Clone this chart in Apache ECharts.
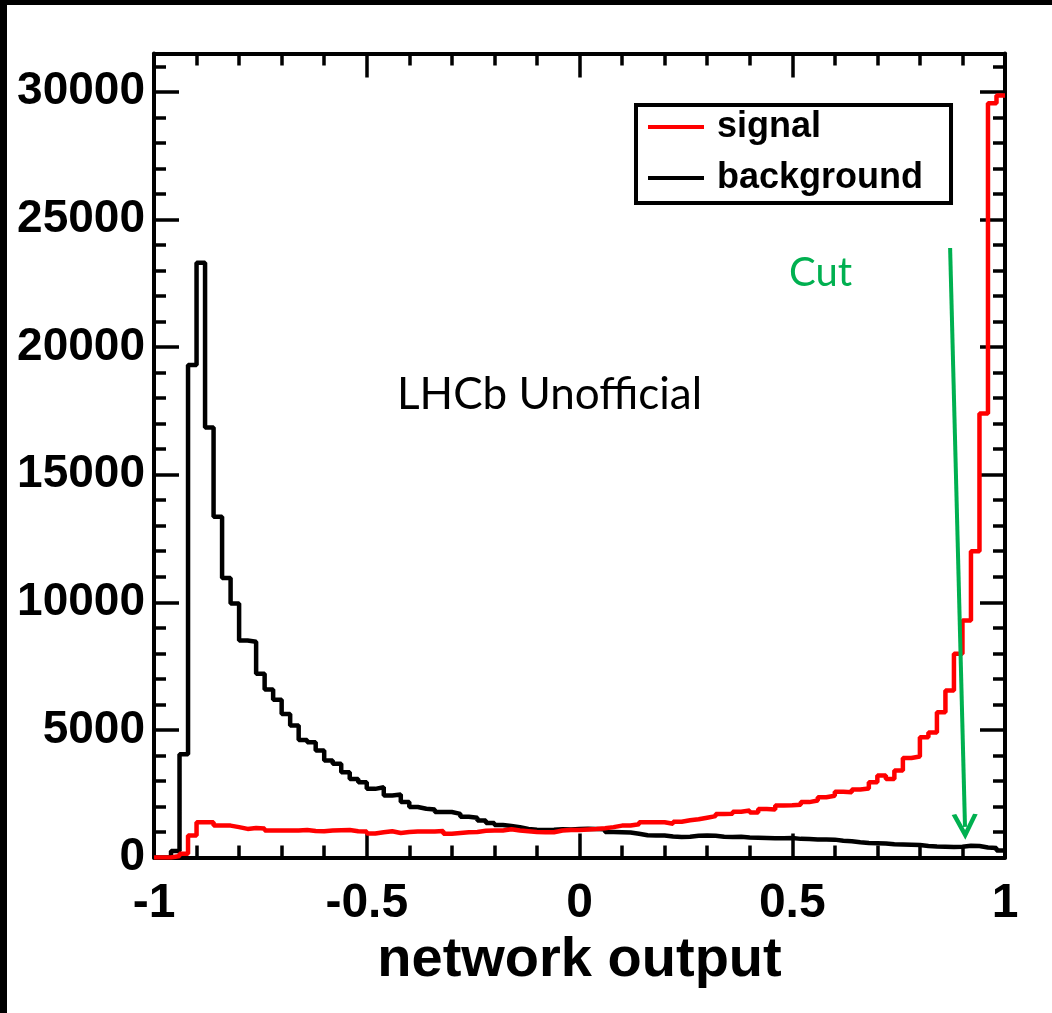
<!DOCTYPE html>
<html>
<head>
<meta charset="utf-8">
<title>network output</title>
<script src="https://cdn.jsdelivr.net/npm/echarts@6/dist/echarts.min.js"></script>
<style>
  html, body { margin: 0; padding: 0; background: #000; }
  #main {
    position: absolute;
    left: 7px;
    top: 5px;
    width: 1045px;
    height: 1008px;
    background: #fff;
  }
</style>
</head>
<body>
<div id="main"></div>
<script>
// 100 bins of width 0.02 between -1 and 1
const binStart = -1;
const binWidth = 0.02;

// signal histogram (red)
const signalCounts = [
  0, 0, 60, 150, 860, 1380, 1380, 1250, 1250, 1190,
  1120, 1160, 1140, 1060, 1060, 1060, 1060, 1080, 1040, 1030,
  1060, 1070, 1080, 1030, 1020, 940, 990, 1030, 960, 1000,
  1020, 1020, 1020, 1040, 930, 960, 990, 1000, 1050, 1060,
  1060, 1110, 1060, 1030, 1000, 990, 990, 1060, 1080, 1080,
  1100, 1120, 1150, 1190, 1250, 1250, 1300, 1380, 1380, 1380,
  1320, 1400, 1460, 1500, 1560, 1620, 1700, 1710, 1790, 1840,
  1760, 1900, 1880, 2040, 2050, 2070, 2170, 2230, 2360, 2420,
  2580, 2560, 2660, 2700, 2950, 3210, 3080, 3410, 3900, 3960,
  4710, 4900, 5690, 6540, 7980, 9290, 12000, 17400, 29550, 29850
];

// background histogram (black)
const backgroundCounts = [
  0, 0, 250, 4050, 19300, 23300, 16850, 13350, 10950, 9950,
  8500, 8450, 7200, 6580, 6180, 5620, 5170, 4600, 4520, 4190,
  3800, 3670, 3340, 3080, 2950, 2690, 2750, 2430, 2470, 2170,
  1980, 1910, 1880, 1780, 1780, 1710, 1600, 1560, 1450, 1350,
  1270, 1230, 1190, 1120, 1090, 1080, 1090, 1110, 1100, 1120,
  1130, 1120, 1110, 1000, 990, 980, 930, 870, 860, 860,
  820, 800, 810, 850, 860, 850, 810, 800, 810, 780,
  770, 760, 750, 750, 760, 730, 720, 710, 710, 700,
  660, 640, 600, 570, 560, 550, 520, 510, 500, 490,
  450, 430, 420, 410, 420, 460, 450, 390, 370, 270
];

// cut arrow, from (x, y) to (x, y) in data units
const cutStart = [0.871, 23880];
const cutEnd = [0.906, 1200];

const seriesNames = ['signal', 'background'];
const xTicks = [-1, 1, 0.5];       // min, max, interval
const yTicks = [0, 31500, 5000];   // min, max, interval
const yMinorStep = 1000;

// bin counts -> step points (left edge of every bin, plus the right edge)
function toSteps (counts) {
  const pts = counts.map(function (c, i) {
    return [+(binStart + i * binWidth).toFixed(2), c];
  });
  pts.push([+(binStart + counts.length * binWidth).toFixed(2), counts[counts.length - 1]]);
  return pts;
}

function getHistChart () {
  const myChart = echarts.init(document.getElementById('main'));

  const labelFont = 'Liberation Sans, Arial, Helvetica, sans-serif';
  const frame = { show: true, onZero: false, lineStyle: { color: '#000', width: 4 } };

  // y轴: 主刻度 / 次刻度, 左右各一份
  function yAxisOf (position, step, tickLen, showLabel) {
    return {
      type: 'value',
      position: position,
      min: yTicks[0],
      max: yTicks[1],
      interval: step,
      axisLine: step === yTicks[2] ? frame : { show: false, onZero: false },
      axisTick: { show: true, inside: true, length: tickLen, lineStyle: { color: '#000', width: 3.5 } },
      axisLabel: {
        show: showLabel,
        showMaxLabel: false,
        margin: 9,
        color: '#000',
        fontSize: 46,
        fontWeight: 'bold',
        fontFamily: labelFont,
        formatter: function (v) { return String(v); }  // 不要千位分隔符
      },
      splitLine: { show: false }
    };
  }

  function xAxisOf (position, showLabel) {
    return {
      type: 'value',
      position: position,
      min: xTicks[0],
      max: xTicks[1],
      interval: xTicks[2],
      axisLine: frame,
      axisTick: { show: true, inside: true, length: 24, lineStyle: { color: '#000', width: 3.5 } },
      minorTick: { show: true, splitNumber: 5, length: 12, lineStyle: { color: '#000', width: 3.5 } },
      axisLabel: {
        show: showLabel,
        margin: 22,
        color: '#000',
        fontSize: 48,
        fontWeight: 'bold',
        fontFamily: labelFont
      },
      splitLine: { show: false },
      minorSplitLine: { show: false },
      name: showLabel ? 'network output' : '',
      nameLocation: 'middle',
      nameGap: 62,
      nameTextStyle: {
        color: '#000',
        fontSize: 56,
        fontWeight: 'bold',
        fontFamily: labelFont,
        verticalAlign: 'top'
      }
    };
  }

  const option = {
    animation: false,
    backgroundColor: '#fff',
    color: ['#ff0000', '#000000'],
    grid: {
      left: 147,
      top: 48.5,
      right: 47,
      bottom: 155.5,
      containLabel: false
    },
    legend: {
      data: seriesNames,
      orient: 'vertical',
      left: 629,
      top: 100,
      padding: [4, 28, 7, 12],
      itemGap: 15,
      itemWidth: 56,
      itemHeight: 4,
      icon: 'rect',
      borderColor: '#000',
      borderWidth: 4,
      borderRadius: 0,
      backgroundColor: '#fff',
      textStyle: {
        color: '#000',
        fontSize: 36,
        fontWeight: 'bold',
        fontFamily: labelFont,
        padding: [0, 0, 0, 8]
      }
    },
    xAxis: [xAxisOf('bottom', true), xAxisOf('top', false)],
    yAxis: [
      yAxisOf('left', yTicks[2], 25, true),
      yAxisOf('left', yMinorStep, 12, false),
      yAxisOf('right', yTicks[2], 25, false),
      yAxisOf('right', yMinorStep, 12, false)
    ],
    graphic: [
      {
        type: 'text',
        left: 390,
        top: 368,
        style: { text: 'LHCb Unofficial', fill: '#000', font: '44px Lato, "Open Sans", sans-serif' }
      },
      {
        type: 'text',
        left: 782,
        top: 248,
        style: { text: 'Cut', fill: '#00b050', font: '40px Lato, "Open Sans", sans-serif' }
      }
    ],
    series: [
      {
        name: seriesNames[0],
        type: 'line',
        step: 'end',
        symbol: 'none',
        xAxisIndex: 0,
        yAxisIndex: 0,
        lineStyle: { color: '#ff0000', width: 4.5 },
        itemStyle: { color: '#ff0000' },
        data: toSteps(signalCounts),
        z: 3,
        // 绿色的 cut 箭头
        markLine: {
          silent: true,
          symbol: ['none', 'path://M10,0 L20,18 L16.5,18.5 L10,7 L3.5,18.5 L0,18 Z'],
          symbolSize: [26, 26],
          label: { show: false },
          lineStyle: { color: '#00b050', width: 4, type: 'solid' },
          itemStyle: { color: '#00b050' },
          data: [[{ coord: cutStart }, { coord: cutEnd }]]
        }
      },
      {
        name: seriesNames[1],
        type: 'line',
        step: 'end',
        symbol: 'none',
        xAxisIndex: 0,
        yAxisIndex: 0,
        lineStyle: { color: '#000000', width: 4.5 },
        itemStyle: { color: '#000000' },
        data: toSteps(backgroundCounts),
        z: 2
      }
    ]
  };

  myChart.setOption(option);

  window.addEventListener('resize', function () {
    myChart.resize();
  });
}

getHistChart();
</script>
</body>
</html>
